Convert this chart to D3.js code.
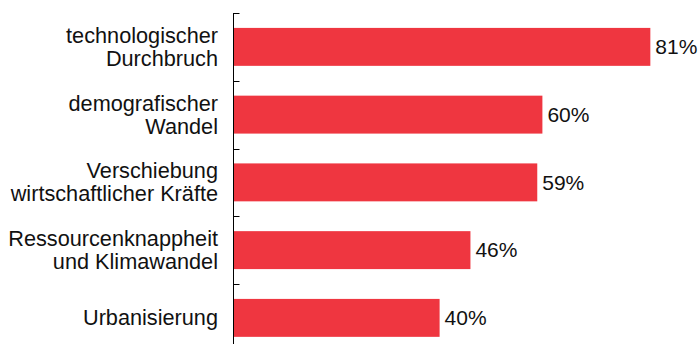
<!DOCTYPE html>
<html>
<head>
<meta charset="utf-8">
<script src="https://cdn.jsdelivr.net/npm/d3@7"></script>
<style>
  body { margin: 0; background: #fff; }
  svg { display: block; font-family: "Liberation Sans", Arial, sans-serif; }
</style>
</head>
<body>
<svg id="chart" width="699" height="344"></svg>
<script>
// data
var categories = ["technologischer Durchbruch", "demografischer Wandel", "Verschiebung wirtschaftlicher Kräfte", "Ressourcenknappheit und Klimawandel", "Urbanisierung"];
var labelLines = [["technologischer", "Durchbruch"], ["demografischer", "Wandel"], ["Verschiebung", "wirtschaftlicher Kräfte"], ["Ressourcenknappheit", "und Klimawandel"], ["Urbanisierung"]];
var values = [81, 60, 59, 46, 40];

var svg = d3.select("#chart");
var axisX = 233.5;
var barColor = "#ef3640";
var fontSize = 21.7;

var y = d3.scaleBand()
  .domain(categories)
  .range([13, 13 + 5 * 67.75])
  .paddingInner(0.44)
  .paddingOuter(0.22);

var x = d3.scaleLinear().domain([0, 100]).range([234, 748]);

// bars
svg.selectAll(".bar")
  .data(values)
  .enter().append("rect")
  .attr("class", "bar")
  .attr("x", x(0))
  .attr("y", function(d, i) { return y(categories[i]); })
  .attr("width", function(d) { return x(d) - x(0); })
  .attr("height", y.bandwidth())
  .attr("fill", barColor);

// value labels
svg.selectAll(".val")
  .data(values)
  .enter().append("text")
  .attr("class", "val")
  .attr("x", function(d) { return x(d) + 5; })
  .attr("y", function(d, i) { return y(categories[i]) + y.bandwidth() / 2; })
  .attr("dy", "0.35em")
  .attr("font-size", 21)
  .attr("fill", "#111")
  .text(function(d) { return d + "%"; });

// category labels, right aligned
var lineH = 23;
svg.selectAll(".cat")
  .data(labelLines)
  .enter().append("text")
  .attr("class", "cat")
  .attr("text-anchor", "end")
  .attr("font-size", fontSize)
  .attr("fill", "#111")
  .each(function(lines, i) {
    var cy = y(categories[i]) + y.bandwidth() / 2;
    var t = d3.select(this);
    lines.forEach(function(s, k) {
      t.append("tspan")
        .attr("x", 218)
        .attr("y", cy + (k - (lines.length - 1) / 2) * lineH)
        .attr("dy", "0.35em")
        .text(s);
    });
  });

// axis line and band-boundary ticks
var r = y.range();
svg.append("line")
  .attr("x1", axisX).attr("x2", axisX)
  .attr("y1", r[0]).attr("y2", r[1])
  .attr("stroke", "#000").attr("stroke-width", 1);

var step = y.step();
var tickYs = categories.map(function(c) { return Math.round(y(c) - step * 0.22) + 0.5; });
svg.selectAll(".tick")
  .data(tickYs)
  .enter().append("line")
  .attr("class", "tick")
  .attr("x1", axisX).attr("x2", axisX + 6)
  .attr("y1", function(d) { return d; })
  .attr("y2", function(d) { return d; })
  .attr("stroke", "#000").attr("stroke-width", 1);
</script>
</body>
</html>
